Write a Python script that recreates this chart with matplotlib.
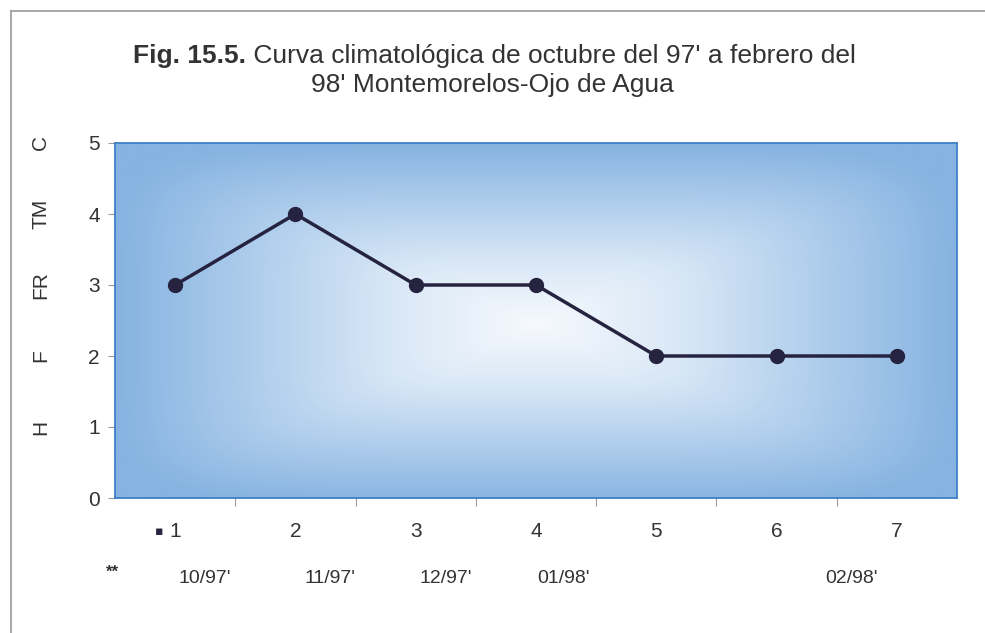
import numpy as np
import matplotlib
matplotlib.use("Agg")
import matplotlib.pyplot as plt
from matplotlib.colors import LinearSegmentedColormap
from matplotlib.lines import Line2D

# ---- data ----
points = [1, 2, 3, 4, 5, 6, 7]
values = [3, 4, 3, 3, 2, 2, 2]
y_ticks = [0, 1, 2, 3, 4, 5]
side_labels = ["H", "F", "FR", "TM", "C"]
side_label_values = [1, 2, 3, 4, 5]
date_labels = ["10/97'", "11/97'", "12/97'", "01/98'", "02/98'"]
date_positions = [1.25, 2.29, 3.25, 4.23, 6.62]

title_bold = "Fig. 15.5."
title_rest = " Curva climatológica de octubre del 97' a febrero del"
title_line2 = "98' Montemorelos-Ojo de Agua"

sans = ["Liberation Sans", "DejaVu Sans"]
TXT = "#333333"

fig = plt.figure(figsize=(9.85, 6.33), dpi=100)
fig.patch.set_facecolor("white")

# outer frame lines (top and left)
fig.add_artist(Line2D([0.011, 1.0], [1 - 11 / 633, 1 - 11 / 633], color="#9a9a9a", lw=1.2, transform=fig.transFigure))
fig.add_artist(Line2D([0.011, 0.011], [0.0, 1 - 11 / 633], color="#9a9a9a", lw=1.2, transform=fig.transFigure))

ax = fig.add_axes([115 / 985, 1 - 498 / 633, (957 - 115) / 985, (498 - 143) / 633])

# rectangular "from center" gradient background
nx, ny = 420, 180
xs = np.linspace(0, 1, nx)
ys = np.linspace(0, 1, ny)
X, Y = np.meshgrid(xs, ys)
cx, cy = 0.50, 0.49
u = np.abs(X - cx) / 0.5
v = np.abs(Y - cy) / 0.51
t = np.clip((u ** 6 + v ** 6) ** (1 / 6), 0, 1)
cmap = LinearSegmentedColormap.from_list(
    "bg", [(0.0, "#f6f9fd"), (0.35, "#d8e7f6"), (0.65, "#b2cfed"), (1.0, "#86b3e1")])
ax.imshow(t, cmap=cmap, vmin=0, vmax=1, extent=(0.5, 7.5, 0, 5),
          aspect="auto", origin="lower", zorder=0, interpolation="bilinear")

ax.plot(points, values, color="#25233f", lw=2.5, marker="o", markersize=10,
        markerfacecolor="#25233f", markeredgecolor="#25233f", zorder=3)

ax.set_xlim(0.5, 7.5)
ax.set_ylim(0, 5)

for s in ax.spines.values():
    s.set_color("#3f7fc6")
    s.set_linewidth(1.3)

ax.set_yticks(y_ticks)
ax.set_yticklabels([str(v) for v in y_ticks], fontfamily=sans, fontsize=15, color=TXT)
ax.tick_params(axis="y", length=5, color="#9a9a9a", pad=6)

minor_x = [p + 0.5 for p in points[:-1]]
ax.set_xticks(minor_x)
ax.set_xticklabels([])
ax.tick_params(axis="x", length=6, color="#9a9a9a")

# category numbers below the axis
for p in points:
    ax.text(p, -0.47, str(p), ha="center", va="center", fontsize=15,
            fontfamily=sans, color=TXT)
ax.text(0.87, -0.47, "\u25aa", ha="center", va="center", fontsize=9,
        color="#25233f", fontfamily=["DejaVu Sans"])

# date row
ax.text(0.48, -1.05, "**", ha="center", va="center", fontsize=12,
        fontweight="bold", fontfamily=sans, color=TXT)
for lab, pos in zip(date_labels, date_positions):
    ax.text(pos, -1.14, lab, ha="center", va="center", fontsize=14,
            fontfamily=sans, color=TXT)

# side labels (rotated)
for lab, val in zip(side_labels, side_label_values):
    ax.text(-0.088, val, lab, ha="center", va="center", rotation=90,
            fontsize=15, fontfamily=sans, color=TXT,
            transform=ax.get_yaxis_transform())

# title
TS = 19
ty1 = 1 - 56 / 633
t1 = fig.text(0.5, ty1, title_bold + title_rest, ha="center", va="center",
              fontsize=TS, fontfamily=sans, color=TXT, alpha=0)
fig.canvas.draw()
r = fig.canvas.get_renderer()
bb = t1.get_window_extent(r)
x0 = bb.x0 / fig.bbox.width
tb = fig.text(x0, ty1, title_bold, ha="left", va="center", fontsize=TS,
              fontfamily=sans, fontweight="bold", color=TXT)
fig.canvas.draw()
bb2 = tb.get_window_extent(r)
fig.text(bb2.x1 / fig.bbox.width, ty1, title_rest, ha="left", va="center",
         fontsize=TS, fontfamily=sans, color=TXT)
fig.text(0.5, 1 - 85 / 633, title_line2, ha="center", va="center", fontsize=TS,
         fontfamily=sans, color=TXT)

fig.savefig("out.png", dpi=100)
